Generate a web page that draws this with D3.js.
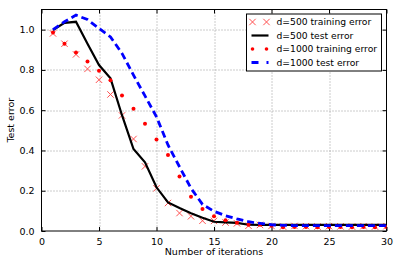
<!DOCTYPE html>
<html>
<head>
<meta charset="utf-8">
<script src="https://cdn.jsdelivr.net/npm/d3@7"></script>
<style>
  body { margin: 0; background: #fff; }
  text { font-family: "DejaVu Sans", sans-serif; }
</style>
</head>
<body>
<div id="chart"></div>
<script>
// data
var iterations = d3.range(1, 31);
var train500 = [0.981, 0.93, 0.877, 0.805, 0.751, 0.678, 0.574, 0.457, 0.321, 0.212,
                0.139, 0.089, 0.073, 0.051, 0.05, 0.042, 0.038, 0.026, 0.03, 0.025,
                0.022, 0.025, 0.024, 0.022, 0.024, 0.023, 0.022, 0.024, 0.022, 0.024];
var test500 = [0.998, 1.034, 1.039, 0.93, 0.824, 0.758, 0.575, 0.407, 0.341, 0.217,
               0.142, 0.114, 0.088, 0.066, 0.046, 0.043, 0.04, 0.031, 0.03, 0.03,
               0.03, 0.03, 0.03, 0.03, 0.03, 0.03, 0.03, 0.03, 0.03, 0.03];
var train1000 = [0.986, 0.93, 0.887, 0.842, 0.796, 0.749, 0.673, 0.607, 0.533, 0.455,
                 0.377, 0.271, 0.17, 0.109, 0.073, 0.053, 0.041, 0.031, 0.031, 0.026,
                 0.019, 0.02, 0.02, 0.019, 0.02, 0.02, 0.019, 0.02, 0.019, 0.02];
var test1000 = [1.0, 1.039, 1.072, 1.05, 1.006, 0.964, 0.882, 0.774, 0.671, 0.567,
                0.427, 0.319, 0.212, 0.132, 0.098, 0.076, 0.06, 0.046, 0.038, 0.031,
                0.028, 0.027, 0.027, 0.027, 0.027, 0.027, 0.027, 0.027, 0.027, 0.027];
var xTicks = [0, 5, 10, 15, 20, 25, 30];
var yTicks = [0.0, 0.2, 0.4, 0.6, 0.8, 1.0];
var legendLabels = ["d=500 training error", "d=500 test error", "d=1000 training error", "d=1000 test error"];

var margin = {top: 9.5, right: 15.5, bottom: 37, left: 41.5},
  width = 402 - margin.left - margin.right,
  height = 268 - margin.top - margin.bottom;

var svg = d3.select("#chart")
  .append("svg")
  .attr("width", 402)
  .attr("height", 268)
  .append("g")
  .attr("transform", "translate(" + margin.left + "," + margin.top + ")");

var x = d3.scaleLinear().domain([0, 30]).range([0, width]);
var y = d3.scaleLinear().domain([0, 1.1]).range([height, 0]);

// grid
svg.append("g")
  .selectAll("line")
  .data(xTicks.slice(1, -1))
  .enter().append("line")
  .attr("x1", function(d) { return Math.round(x(d)) + 0.5; })
  .attr("x2", function(d) { return Math.round(x(d)) + 0.5; })
  .attr("y1", 0).attr("y2", height)
  .attr("stroke", "#999").attr("stroke-width", 1).attr("stroke-dasharray", "1,2");
svg.append("g")
  .selectAll("line")
  .data(yTicks.slice(1))
  .enter().append("line")
  .attr("y1", function(d) { return Math.round(y(d)) + 0.5; })
  .attr("y2", function(d) { return Math.round(y(d)) + 0.5; })
  .attr("x1", 0).attr("x2", width)
  .attr("stroke", "#999").attr("stroke-width", 1).attr("stroke-dasharray", "1,2");

// axes with inward ticks
var xAxis = svg.append("g")
  .attr("transform", "translate(0," + height + ")")
  .call(d3.axisBottom(x).tickValues(xTicks).tickSizeInner(-4).tickSizeOuter(0).tickPadding(7));
var yAxis = svg.append("g")
  .call(d3.axisLeft(y).tickValues(yTicks).tickFormat(d3.format(".1f")).tickSizeInner(-4).tickSizeOuter(0).tickPadding(7));
svg.append("g")
  .attr("transform", "translate(" + width + ",0)")
  .call(d3.axisRight(y).tickValues(yTicks).tickSizeInner(-4).tickSizeOuter(0).tickFormat(""));
svg.append("g")
  .call(d3.axisTop(x).tickValues(xTicks).tickSizeInner(-4).tickSizeOuter(0).tickFormat(""));
svg.selectAll(".domain").remove();
svg.selectAll(".tick text").attr("font-size", "9.5px").attr("fill", "#000")
  .style("font-family", "DejaVu Sans");
svg.selectAll(".tick line").attr("stroke", "#000");

// frame
svg.append("rect")
  .attr("x", 0).attr("y", 0).attr("width", width).attr("height", height)
  .attr("fill", "none").attr("stroke", "#000").attr("stroke-width", 1);

var clip = svg.append("clipPath").attr("id", "clip")
  .append("rect").attr("x", 0).attr("y", 0).attr("width", width).attr("height", height);
var plot = svg.append("g").attr("clip-path", "url(#clip)");

var line = function(vals) {
  return d3.line()
    .x(function(d, i) { return x(iterations[i]); })
    .y(function(d) { return y(d); })(vals);
};

// d=500 training: x markers
function xMark(g, cx, cy) {
  var s = 3.2;
  g.append("path")
    .attr("d", "M" + (cx - s) + "," + (cy - s) + "L" + (cx + s) + "," + (cy + s) +
               "M" + (cx - s) + "," + (cy + s) + "L" + (cx + s) + "," + (cy - s))
    .attr("stroke", "#ff5050").attr("stroke-width", 1).attr("fill", "none");
}
var xg = plot.append("g");
train500.forEach(function(d, i) { xMark(xg, x(iterations[i]), y(d)); });

// d=500 test
plot.append("path")
  .attr("d", line(test500))
  .attr("fill", "none").attr("stroke", "#000").attr("stroke-width", 2.2);

// d=1000 training: dots
plot.append("g").selectAll("circle")
  .data(train1000)
  .enter().append("circle")
  .attr("cx", function(d, i) { return x(iterations[i]); })
  .attr("cy", function(d) { return y(d); })
  .attr("r", 2)
  .attr("fill", "#f00");

// d=1000 test
plot.append("path")
  .attr("d", line(test1000))
  .attr("fill", "none").attr("stroke", "#00f").attr("stroke-width", 2.8)
  .attr("stroke-dasharray", "7,4");

// axis labels
svg.append("text")
  .attr("x", width / 2).attr("y", height + 24)
  .attr("text-anchor", "middle").attr("font-size", "9.5px")
  .text("Number of iterations");
svg.append("text")
  .attr("transform", "translate(" + (-28) + "," + (height / 2) + ") rotate(-90)")
  .attr("text-anchor", "middle").attr("font-size", "9.5px")
  .text("Test error");

// legend
var lx = 246.5 - margin.left, ly = 14 - margin.top;
var legend = svg.append("g").attr("transform", "translate(" + lx + "," + ly + ")");
legend.append("rect")
  .attr("x", 0).attr("y", 0).attr("width", 135).attr("height", 57)
  .attr("fill", "#fff").attr("stroke", "#000").attr("stroke-width", 1);
var rowY = [8, 21.5, 35, 48.5];
legendLabels.forEach(function(t, i) {
  legend.append("text")
    .attr("x", 30).attr("y", rowY[i]).attr("dy", "0.35em")
    .attr("font-size", "9.2px").text(t);
});
xMark(legend, 6, rowY[0]);
xMark(legend, 20, rowY[0]);
legend.append("line")
  .attr("x1", 5).attr("x2", 22).attr("y1", rowY[1]).attr("y2", rowY[1])
  .attr("stroke", "#000").attr("stroke-width", 2.2);
legend.selectAll(".ldot").data([6, 20]).enter().append("circle")
  .attr("cx", function(d) { return d; }).attr("cy", rowY[2]).attr("r", 1.8).attr("fill", "#f00");
legend.append("line")
  .attr("x1", 5).attr("x2", 22).attr("y1", rowY[3]).attr("y2", rowY[3])
  .attr("stroke", "#00f").attr("stroke-width", 2.8).attr("stroke-dasharray", "7,8");
</script>
</body>
</html>
